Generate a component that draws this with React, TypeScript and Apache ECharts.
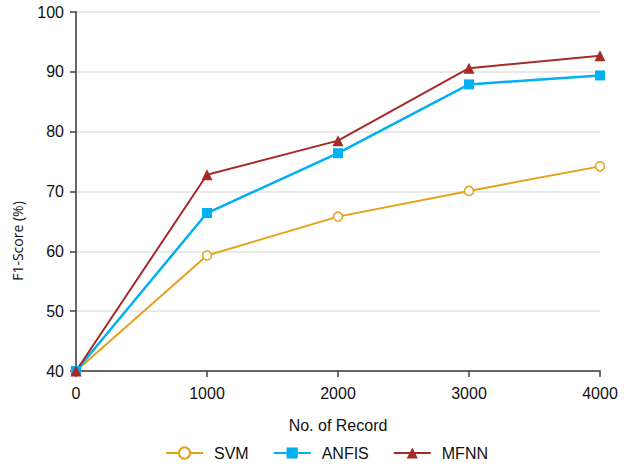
import React, { useEffect, useRef } from "react";
import * as echarts from "echarts";

const records = [0, 1000, 2000, 3000, 4000];
const svm = [40, 59.3, 65.8, 70.1, 74.2];
const anfis = [40, 66.4, 76.4, 87.9, 89.4];
const mfnn = [40, 72.8, 78.5, 90.6, 92.7];

const pair = (vals: number[]) => records.map((r, i) => [r, vals[i]]);

export default function App() {
  const ref = useRef<HTMLDivElement>(null);
  useEffect(() => {
    if (!ref.current) return;
    const chart = echarts.init(ref.current, null, { renderer: "svg" });
    const font = "Liberation Sans, Arial, sans-serif";
    chart.setOption({
      animation: false,
      backgroundColor: "#ffffff",
      grid: { left: 76, right: 24, top: 12, bottom: 96 },
      legend: {
        top: 440,
        left: 160,
        itemWidth: 37,
        itemHeight: 14,
        itemGap: 24,
        textStyle: { fontFamily: font, fontSize: 16, color: "#111", padding: [0, 0, 0, 6] },
        data: ["SVM", "ANFIS", "MFNN"],
      },
      graphic: [
        {
          type: "text",
          x: 17,
          y: 241,
          rotation: Math.PI / 2,
          style: {
            text: "F1-Score (%)",
            fontFamily: "Open Sans, Noto Sans, sans-serif",
            fontSize: 14,
            fill: "#111",
            textAlign: "center",
            textVerticalAlign: "middle",
          },
        },
      ],
      xAxis: {
        type: "value",
        min: 0,
        max: 4000,
        interval: 1000,
        name: "No. of Record",
        nameLocation: "middle",
        nameGap: 46,
        nameTextStyle: { fontFamily: font, fontSize: 16, color: "#111" },
        axisLine: { show: true, lineStyle: { color: "#666", width: 2 } },
        axisTick: { show: true, length: 6, lineStyle: { color: "#444", width: 1.5 } },
        axisLabel: { fontFamily: font, fontSize: 16, color: "#111", margin: 14, formatter: (v: number) => String(v) },
        splitLine: { show: false },
      },
      yAxis: {
        type: "value",
        min: 40,
        max: 100,
        interval: 10,
        axisLine: { show: true, lineStyle: { color: "#666", width: 2 } },
        axisTick: { show: true, length: 6, lineStyle: { color: "#444", width: 1.5 } },
        axisLabel: { fontFamily: font, fontSize: 16, color: "#111", margin: 12 },
        splitLine: { show: true, lineStyle: { color: "#e2e2e2", width: 1.5 } },
      },
      series: [
        {
          name: "SVM",
          type: "line",
          data: pair(svm),
          symbol: "circle",
          symbolSize: 9,
          lineStyle: { width: 2, color: "#e3a21a" },
          itemStyle: { color: "#ffffff", borderColor: "#e3a21a", borderWidth: 1.5 },
        },
        {
          name: "ANFIS",
          type: "line",
          data: pair(anfis),
          symbol: "rect",
          symbolSize: 10,
          lineStyle: { width: 2.5, color: "#00b0f0" },
          itemStyle: { color: "#00b0f0" },
        },
        {
          name: "MFNN",
          type: "line",
          data: pair(mfnn),
          symbol: "triangle",
          symbolSize: 11,
          lineStyle: { width: 2, color: "#a52a2a" },
          itemStyle: { color: "#a52a2a" },
        },
      ],
    });
    return () => chart.dispose();
  }, []);
  return <div ref={ref} style={{ position: "fixed", left: 0, top: 0, width: 624, height: 467 }} />;
}
